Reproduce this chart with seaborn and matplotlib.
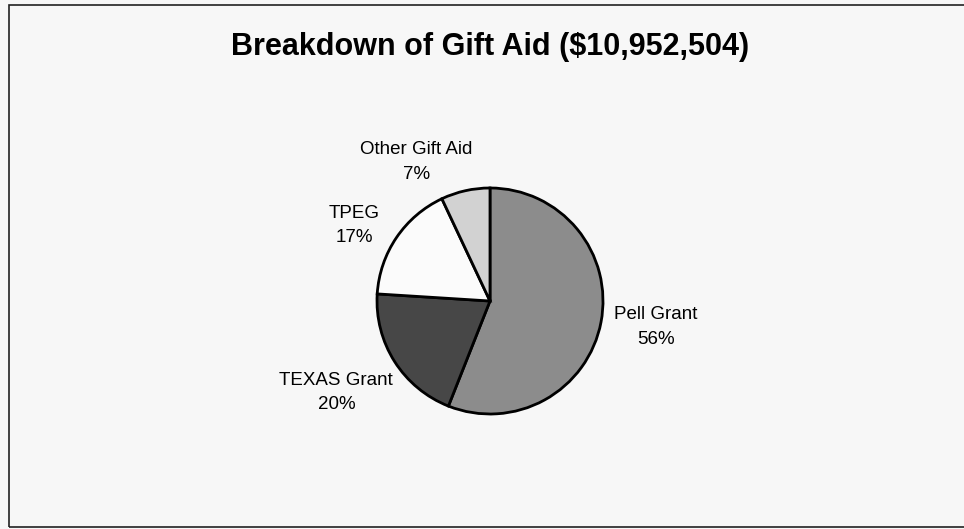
import matplotlib
matplotlib.use("Agg")
import matplotlib.pyplot as plt
import seaborn as sns
from matplotlib.patches import Rectangle

# data
categories = ["Pell Grant", "TEXAS Grant", "TPEG", "Other Gift Aid"]
shares = [56, 20, 17, 7]
slice_colors = ["#8c8c8c", "#474747", "#fbfbfb", "#d2d2d2"]
title = "Breakdown of Gift Aid ($10,952,504)"

sns.set_theme(style="white")
plt.rcParams["font.family"] = ["Liberation Sans", "DejaVu Sans"]

fig = plt.figure(figsize=(9.64, 5.29), dpi=100)
fig.patch.set_facecolor("#f7f7f7")

# chart frame (right edge runs off the page in the scan)
frame = Rectangle((9 / 964, 2 / 529), 1.0, 522 / 529, transform=fig.transFigure,
                  fill=False, edgecolor="#222222", linewidth=1.2)
fig.patches.append(frame)

fig.text(490 / 964, 1 - 47 / 529, title, ha="center", va="center",
         fontsize=22, fontweight="bold", color="black")

# pie axes: centre ~ (490, 301) px, radius ~113 px
r = 113
ax = fig.add_axes([(490 - r) / 964, (529 - 301 - r) / 529, 2 * r / 964, 2 * r / 529])
labels = [f"{c}\n{s}%" for c, s in zip(categories, shares)]
wedges, texts = ax.pie(
    shares,
    labels=labels,
    colors=slice_colors,
    startangle=90,
    counterclock=False,
    wedgeprops=dict(edgecolor="black", linewidth=2),
    textprops=dict(fontsize=13.5, color="black"),
)

# label placement as Excel put them (in pie-radius units)
label_xy = {
    "Pell Grant": (1.47, -0.23),
    "TEXAS Grant": (-1.36, -0.81),
    "TPEG": (-1.20, 0.67),
    "Other Gift Aid": (-0.65, 1.23),
}
for t, c in zip(texts, categories):
    t.set_position(label_xy[c])
    t.set_ha("center")
    t.set_va("center")
    t.set_linespacing(1.55)
ax.set_xlim(-1.0, 1.0)
ax.set_ylim(-1.0, 1.0)
ax.set_aspect("equal")
ax.axis("off")

fig.savefig("out.png", dpi=100, facecolor=fig.get_facecolor())
